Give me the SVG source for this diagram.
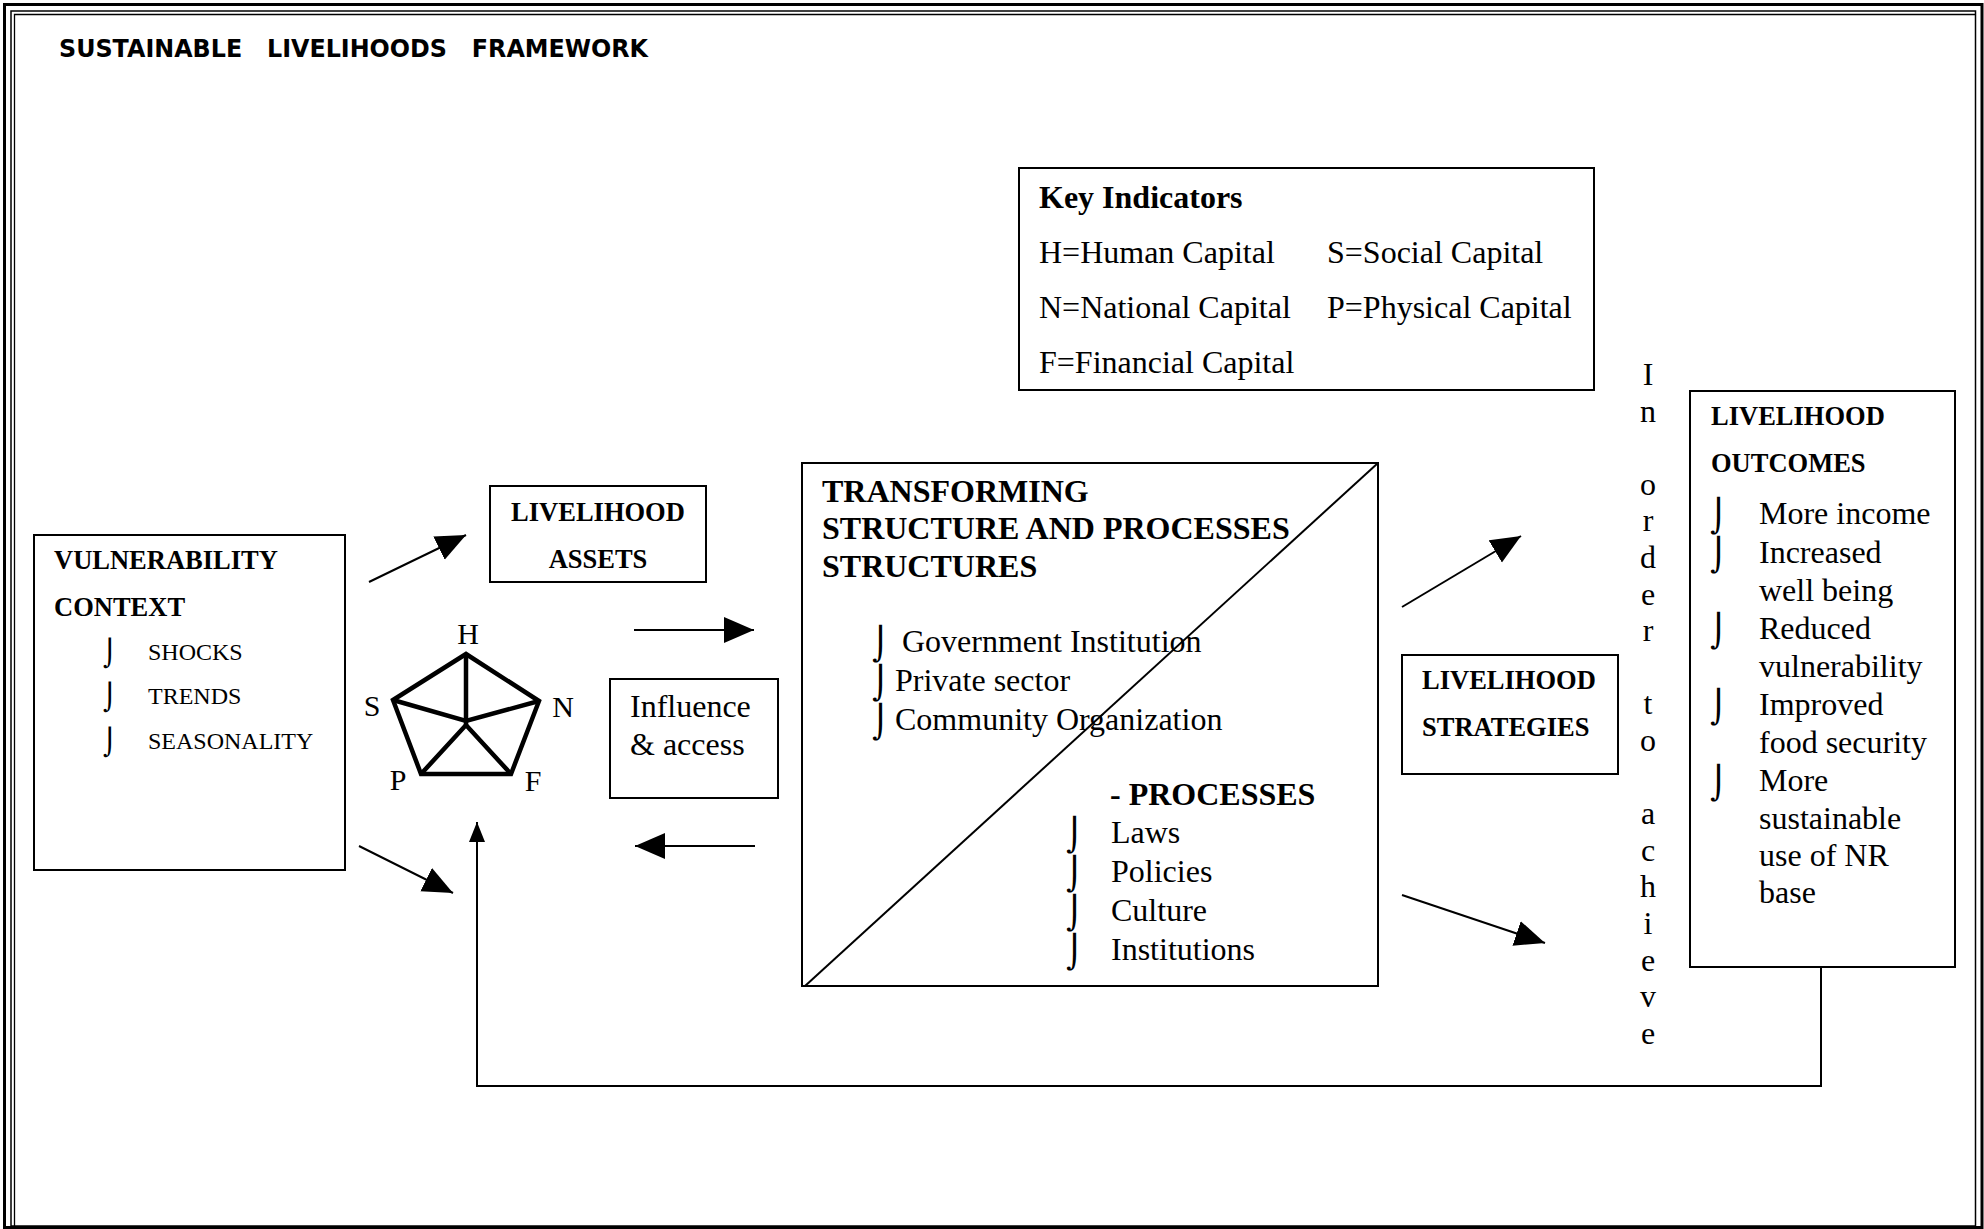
<svg xmlns="http://www.w3.org/2000/svg" width="1984" height="1229" viewBox="0 0 1984 1229">
<style>
.box{fill:none;stroke:#000;stroke-width:2}
.ln{fill:none;stroke:#000;stroke-width:2}
.pent{fill:none;stroke:#000;stroke-width:4.5;stroke-linejoin:miter}
.t{font-family:"Liberation Serif","Times New Roman",serif;fill:#000}
.b{font-weight:bold}
.s32{font-size:32px}
.s24{font-size:24px}
.s26{font-size:26.5px}
.bul{font-family:"DejaVu Sans",sans-serif;fill:#000}
</style>
<defs>
<marker id="ah" markerUnits="userSpaceOnUse" markerWidth="32" markerHeight="28" refX="30" refY="13" orient="auto">
<path d="M0,0 L30,13 L0,26 z" fill="#000"/>
</marker>
<marker id="ahs" markerUnits="userSpaceOnUse" markerWidth="22" markerHeight="18" refX="20" refY="8" orient="auto">
<path d="M0,0 L20,8 L0,16 z" fill="#000"/>
</marker>
</defs>
<rect width="1984" height="1229" fill="#fff"/>
<g id="frame">
<rect x="4.5" y="4.5" width="1977.5" height="1223" fill="none" stroke="#000" stroke-width="3"/>
<rect x="11" y="11" width="1964.5" height="1215" fill="none" stroke="#000" stroke-width="1.5"/>
<path d="M14.5,1226 V14.5 H1975" fill="none" stroke="#000" stroke-width="1.3"/>
</g>
<g id="title">
<text x="59" y="57" font-family="DejaVu Sans,sans-serif" font-weight="bold" font-size="25" textLength="589" lengthAdjust="spacingAndGlyphs" xml:space="preserve">SUSTAINABLE   LIVELIHOODS   FRAMEWORK</text>
</g>
<g id="key-indicators">
<rect class="box" x="1019" y="168" width="575" height="222"/>
<text class="t b s32" x="1039" y="208">Key Indicators</text>
<text class="t s32" x="1039" y="263">H=Human Capital</text>
<text class="t s32" x="1327" y="263">S=Social Capital</text>
<text class="t s32" x="1039" y="318">N=National Capital</text>
<text class="t s32" x="1327" y="318">P=Physical Capital</text>
<text class="t s32" x="1039" y="373">F=Financial Capital</text>
</g>
<g id="vulnerability-context">
<rect class="box" x="34" y="535" width="311" height="335"/>
<text class="t b s26" x="54" y="569">VULNERABILITY</text>
<text class="t b s26" x="54" y="616">CONTEXT</text>
<text class="bul" font-size="26" x="103" y="662">⌡</text>
<text class="bul" font-size="26" x="103" y="706">⌡</text>
<text class="bul" font-size="26" x="103" y="751">⌡</text>
<text class="t s24" x="148" y="660">SHOCKS</text>
<text class="t s24" x="148" y="704">TRENDS</text>
<text class="t s24" x="148" y="749">SEASONALITY</text>
</g>
<g id="livelihood-assets">
<rect class="box" x="490" y="486" width="216" height="96"/>
<text class="t b s26" x="598" y="521" text-anchor="middle">LIVELIHOOD</text>
<text class="t b s26" x="598" y="568" text-anchor="middle">ASSETS</text>
</g>
<g id="asset-pentagon">
<polygon class="pent" points="466,654 539,701 511,774 421,774 393,700"/>
<polyline class="pent" points="466,654 466,725"/>
<polyline class="pent" points="393,700 466,721 539,701"/>
<polyline class="pent" points="421,774 466,725 511,774"/>
<text class="t" font-size="30" x="468" y="644" text-anchor="middle">H</text>
<text class="t" font-size="30" x="372" y="716" text-anchor="middle">S</text>
<text class="t" font-size="30" x="563" y="717" text-anchor="middle">N</text>
<text class="t" font-size="30" x="398" y="790" text-anchor="middle">P</text>
<text class="t" font-size="30" x="533" y="791" text-anchor="middle">F</text>
</g>
<g id="influence-access">
<rect class="box" x="610" y="679" width="168" height="119"/>
<text class="t s32" x="630" y="717">Influence</text>
<text class="t s32" x="630" y="755">&amp; access</text>
</g>
<g id="transforming-structures">
<rect class="box" x="802" y="463" width="576" height="523"/>
<line class="ln" x1="805" y1="986" x2="1378" y2="463" stroke-width="1.5"/>
<text class="t b s32" x="822" y="502">TRANSFORMING</text>
<text class="t b s32" x="822" y="539">STRUCTURE AND PROCESSES</text>
<text class="t b s32" x="822" y="577">STRUCTURES</text>
<text class="bul" font-size="32" x="872" y="655">⌡</text>
<text class="bul" font-size="32" x="872" y="694">⌡</text>
<text class="bul" font-size="32" x="872" y="733">⌡</text>
<text class="t s32" x="902" y="652">Government Institution</text>
<text class="t s32" x="895" y="691">Private sector</text>
<text class="t s32" x="895" y="730">Community Organization</text>
<text class="t b s32" x="1110" y="805">- PROCESSES</text>
<text class="bul" font-size="32" x="1066" y="846">⌡</text>
<text class="bul" font-size="32" x="1066" y="885">⌡</text>
<text class="bul" font-size="32" x="1066" y="924">⌡</text>
<text class="bul" font-size="32" x="1066" y="963">⌡</text>
<text class="t s32" x="1111" y="843">Laws</text>
<text class="t s32" x="1111" y="882">Policies</text>
<text class="t s32" x="1111" y="921">Culture</text>
<text class="t s32" x="1111" y="960">Institutions</text>
</g>
<g id="livelihood-strategies">
<rect class="box" x="1402" y="655" width="216" height="119"/>
<text class="t b s26" x="1422" y="689">LIVELIHOOD</text>
<text class="t b s26" x="1422" y="736">STRATEGIES</text>
</g>
<g id="in-order-to-achieve" class="t s32" text-anchor="middle">
<text x="1648" y="385">I</text>
<text x="1648" y="421.6">n</text>
<text x="1648" y="494.8">o</text>
<text x="1648" y="531.4">r</text>
<text x="1648" y="568">d</text>
<text x="1648" y="604.6">e</text>
<text x="1648" y="641.2">r</text>
<text x="1648" y="714.4">t</text>
<text x="1648" y="751">o</text>
<text x="1648" y="824.2">a</text>
<text x="1648" y="860.8">c</text>
<text x="1648" y="897.4">h</text>
<text x="1648" y="934">i</text>
<text x="1648" y="970.6">e</text>
<text x="1648" y="1007.2">v</text>
<text x="1648" y="1043.8">e</text>
</g>
<g id="livelihood-outcomes">
<rect class="box" x="1690" y="391" width="265" height="576"/>
<text class="t b s26" x="1711" y="425">LIVELIHOOD</text>
<text class="t b s26" x="1711" y="472">OUTCOMES</text>
<text class="bul" font-size="32" x="1710" y="527">⌡</text>
<text class="bul" font-size="32" x="1710" y="566">⌡</text>
<text class="bul" font-size="32" x="1710" y="642">⌡</text>
<text class="bul" font-size="32" x="1710" y="718">⌡</text>
<text class="bul" font-size="32" x="1710" y="794">⌡</text>
<text class="t s32" x="1759" y="524">More income</text>
<text class="t s32" x="1759" y="563">Increased</text>
<text class="t s32" x="1759" y="601">well being</text>
<text class="t s32" x="1759" y="639">Reduced</text>
<text class="t s32" x="1759" y="677">vulnerability</text>
<text class="t s32" x="1759" y="715">Improved</text>
<text class="t s32" x="1759" y="753">food security</text>
<text class="t s32" x="1759" y="791">More</text>
<text class="t s32" x="1759" y="829">sustainable</text>
<text class="t s32" x="1759" y="866">use of NR</text>
<text class="t s32" x="1759" y="903">base</text>
</g>
<g id="connectors">
<line class="ln" x1="369" y1="582" x2="466" y2="535" marker-end="url(#ah)"/>
<line class="ln" x1="359" y1="846" x2="453" y2="893" marker-end="url(#ah)"/>
<line class="ln" x1="634" y1="630" x2="754" y2="630" marker-end="url(#ah)"/>
<line class="ln" x1="755" y1="846" x2="635" y2="846" marker-end="url(#ah)"/>
<line class="ln" x1="1402" y1="607" x2="1521" y2="536" marker-end="url(#ah)"/>
<line class="ln" x1="1402" y1="895" x2="1545" y2="943" marker-end="url(#ah)"/>
<polyline class="ln" points="1821,967 1821,1086 477,1086 477,822" marker-end="url(#ahs)"/>
</g>
</svg>
